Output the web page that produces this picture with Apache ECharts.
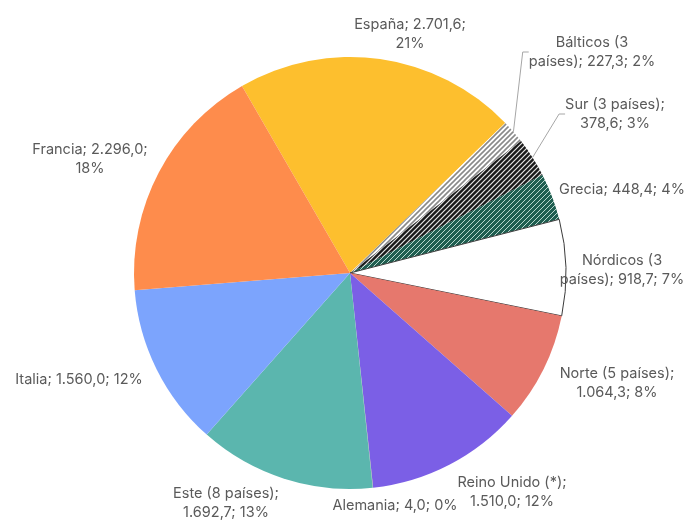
<!DOCTYPE html>
<html><head><meta charset="utf-8">
<script src="https://cdn.jsdelivr.net/npm/echarts@6/dist/echarts.min.js"></script>
<style>html,body{margin:0;padding:0;background:#fff}#c{width:684px;height:523px}</style>
</head><body><div id="c"></div>
<script>
const categories = ['España','Bálticos (3 países)','Sur (3 países)','Grecia','Nórdicos (3 países)','Norte (5 países)','Reino Unido (*)','Alemania','Este (8 países)','Italia','Francia'];
const values = [2701.6, 227.3, 378.6, 448.4, 918.7, 1064.3, 1510.0, 4.0, 1692.7, 1560.0, 2296.0];
const percents = ['21%','2%','3%','4%','7%','8%','12%','0%','13%','12%','18%'];
const labelBreaks = ['España; 2.701,6;\n21%','Bálticos (3\npaíses); 227,3; 2%','Sur (3 países);\n378,6; 3%','Grecia; 448,4; 4%','Nórdicos (3\npaíses); 918,7; 7%','Norte (5 países);\n1.064,3; 8%','Reino Unido (*);\n1.510,0; 12%','Alemania; 4,0; 0%','Este (8 países);\n1.692,7; 13%','Italia; 1.560,0; 12%','Francia; 2.296,0;\n18%'];

function pattern(bg, fg, w) {
  const c = document.createElement('canvas'); c.width = 5; c.height = 5;
  const g = c.getContext('2d');
  g.fillStyle = bg; g.fillRect(0,0,5,5);
  g.strokeStyle = fg; g.lineWidth = w;
  g.beginPath();
  g.moveTo(-1,6); g.lineTo(6,-1);
  g.moveTo(-1,1); g.lineTo(1,-1);
  g.moveTo(4,6); g.lineTo(6,4);
  g.stroke();
  return {image: c, repeat: 'repeat'};
}
const fills = [
  '#FDBF2E',
  pattern('#ffffff', '#8a8a8a', 1.6),
  pattern('#1a1a1a', '#e8e8e8', 1.2),
  pattern('#1F5E50', '#b8d8cf', 1.0),
  '#ffffff',
  '#E6786D',
  '#7B5FE6',
  '#9a9a9a',
  '#5BB6AE',
  '#7CA4FD',
  '#FE8C4C'
];
const labelPos = {
  0: [410, 34],
  1: [592, 52],
  2: [615, 114],
  3: [622, 190],
  4: [622, 270],
  5: [617, 383],
  6: [512, 492],
  7: [395, 506],
  8: [226, 503],
  9: [79, 380],
  10: [90, 159]
};
const data = categories.map((n, i) => ({
  name: n, value: values[i],
  itemStyle: i === 4 ? {color: fills[i], borderColor: '#3a3a3a', borderWidth: 1} : {color: fills[i]},
  labelLine: {show: i === 1 || i === 2}
}));
const chart = echarts.init(document.getElementById('c'), null, {renderer: 'canvas'});
chart.setOption({
  animation: false,
  series: [{
    type: 'pie',
    center: [350, 273],
    radius: 216,
    startAngle: 120,
    clockwise: true,
    avoidLabelOverlap: false,
    data: data,
    label: {
      show: true, position: 'outside',
      formatter: p => labelBreaks[p.dataIndex],
      fontFamily: 'Inter, "Noto Sans", sans-serif', fontSize: 14.5, color: '#5a5a5a',
      lineHeight: 19, align: 'center'
    },
    labelLine: {show: false, length: 10, length2: 6, lineStyle: {color: '#a6a6a6', width: 1}},
    labelLayout: function (p) {
      const lp = labelPos[p.dataIndex];
      return {x: lp[0], y: lp[1], align: 'center', verticalAlign: 'middle'};
    },
    emphasis: {disabled: true}
  }]
});
</script></body></html>
